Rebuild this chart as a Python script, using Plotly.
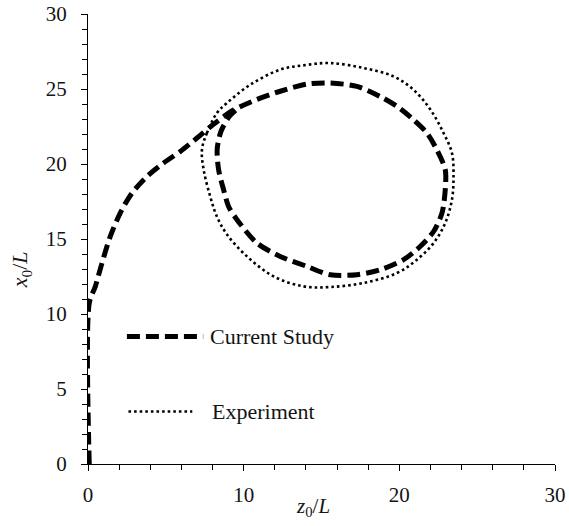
import plotly.graph_objects as go

# Current Study (dashed) trajectory
cs_z = [0.08, 0.08, 0.47, 0.9, 1.43, 2.07, 2.83, 3.79, 4.86, 5.93, 7.0, 8.0, 9.35, 10.85, 12.35,
        14.07, 15.56, 17.28, 18.77, 19.85, 20.91, 21.77, 22.41, 22.95, 22.95, 22.74, 22.2, 21.34,
        20.27, 18.77, 17.28, 15.56, 14.07, 12.35, 10.85, 9.57, 9.03, 8.71, 8.39, 8.3, 8.55, 9.1, 9.8]
cs_x = [0.0, 10.73, 11.84, 13.4, 15.17, 16.73, 18.07, 19.17, 20.07, 20.84, 21.73, 22.6, 23.6, 24.3, 24.85,
        25.33, 25.4, 25.17, 24.5, 23.84, 22.95, 22.07, 20.95, 19.62, 18.29, 16.73, 15.5, 14.5,
        13.62, 12.95, 12.62, 12.62, 13.17, 13.84, 14.73, 16.29, 17.17, 18.29, 19.62, 21.0, 22.2, 23.2, 23.85]

# Experiment (dotted) trajectory
ex_z = [7.32, 7.64, 8.28, 8.93, 10.43, 12.35, 14.0, 15.56, 17.7, 19.63, 20.91, 22.0, 22.84, 23.38,
        23.48, 23.38, 22.95, 22.2, 21.13, 19.85, 17.7, 15.56, 13.85, 11.92, 10.21, 8.93, 8.28,
        7.85, 7.43, 7.32]
ex_x = [20.95, 22.07, 23.4, 24.07, 25.29, 26.29, 26.6, 26.73, 26.4, 25.84, 24.95, 23.62, 22.07, 20.73,
        19.17, 17.62, 16.07, 14.73, 13.62, 12.73, 12.07, 11.8, 11.84, 12.51, 13.84, 15.3, 16.5,
        17.84, 19.62, 20.95]

# In-plot legend samples (data coordinates)
leg_cs_z = [2.5, 7.4]
leg_cs_x = [8.5, 8.5]
leg_ex_z = [2.6, 6.7]
leg_ex_x = [3.5, 3.5]
leg_labels = ["Current Study", "Experiment"]

x_ticks = [0, 10, 20, 30]
y_ticks = [0, 5, 10, 15, 20, 25, 30]

FONT = "'Liberation Serif', 'DejaVu Serif', serif"
TXT = "#141414"

dash_style = dict(color="black", width=5, dash="13px,6px")
dot_style = dict(color="black", width=2.6, dash="2.6px,3px")

fig = go.Figure()
fig.add_trace(go.Scatter(x=cs_z, y=cs_x, mode="lines", line=dict(shape="spline", smoothing=0.8, **dash_style),
                         showlegend=False))
fig.add_trace(go.Scatter(x=ex_z, y=ex_x, mode="lines", line=dict(shape="spline", smoothing=1.0, **dot_style),
                         showlegend=False))
fig.add_trace(go.Scatter(x=leg_cs_z, y=leg_cs_x, mode="lines", line=dash_style, showlegend=False))
fig.add_trace(go.Scatter(x=leg_ex_z, y=leg_ex_x, mode="lines", line=dot_style, showlegend=False))

fig.add_annotation(x=7.7, y=leg_cs_x[0], text=leg_labels[0], showarrow=False, xanchor="left",
                   yanchor="middle", font=dict(family=FONT, size=22, color=TXT))
fig.add_annotation(x=7.85, y=leg_ex_x[0], text=leg_labels[1], showarrow=False, xanchor="left",
                   yanchor="middle", font=dict(family=FONT, size=22, color=TXT))

# axis titles
fig.add_annotation(xref="paper", yref="paper", x=0.482, y=-0.096, text="<i>z</i><sub>0</sub>/<i>L</i>",
                   showarrow=False, xanchor="center", yanchor="middle",
                   font=dict(family=FONT, size=21, color=TXT))
fig.add_annotation(xref="paper", yref="paper", x=-0.143, y=0.431, text="<i>x</i><sub>0</sub>/<i>L</i>",
                   showarrow=False, textangle=-90, xanchor="center", yanchor="middle",
                   font=dict(family=FONT, size=22, color=TXT))

axis_common = dict(showgrid=False, zeroline=False, showline=True, linecolor="black", linewidth=1.3,
                   ticks="outside", ticklen=6, tickwidth=1.2, tickcolor="black", automargin=False,
                   tickfont=dict(family=FONT, size=21, color=TXT))

fig.update_xaxes(range=[0, 30], tickvals=x_ticks, ticklabelstandoff=6,
                 minor=dict(dtick=2, tick0=0, ticks="outside", ticklen=5, tickcolor="black", tickwidth=1.2),
                 **axis_common)
fig.update_yaxes(range=[0, 30], tickvals=y_ticks, ticklabelstandoff=10,
                 minor=dict(dtick=1, tick0=0, ticks="outside", ticklen=5, tickcolor="black", tickwidth=1.2),
                 **axis_common)

fig.update_layout(width=569, height=526, margin=dict(l=88, r=14, t=14, b=62),
                  plot_bgcolor="white", paper_bgcolor="white", showlegend=False,
                  font=dict(family=FONT, color=TXT))

fig.write_html("out.html")
